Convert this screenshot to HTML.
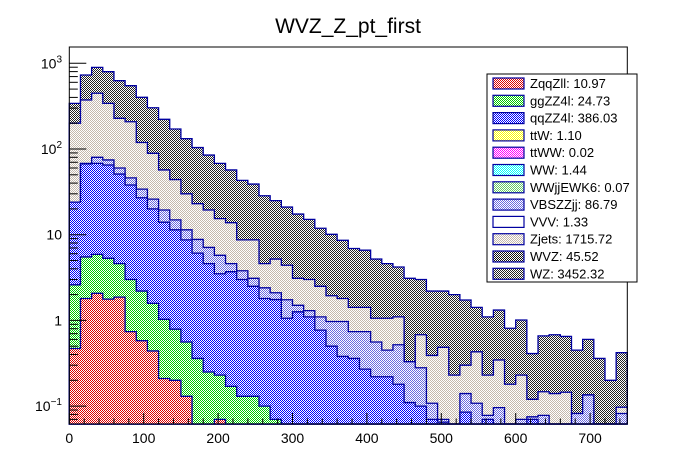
<!DOCTYPE html>
<html><head><meta charset="utf-8"><style>
body{margin:0;background:#fff;width:696px;height:472px;overflow:hidden}
svg{display:block;font-family:"Liberation Sans",sans-serif}
</style></head><body>
<svg id="chart" width="696" height="472" viewBox="0 0 696 472" xmlns="http://www.w3.org/2000/svg">
<defs>
<pattern id="pWZ" width="2" height="2" patternUnits="userSpaceOnUse"><rect width="2" height="2" fill="#fff"/><rect width="1" height="1" fill="#222"/><rect x="1" y="1" width="1" height="1" fill="#222"/></pattern>
<pattern id="pWVZ" width="2" height="2" patternUnits="userSpaceOnUse"><rect width="2" height="2" fill="#fff"/><rect width="1" height="1" fill="#111"/><rect x="1" y="1" width="1" height="1" fill="#111"/></pattern>
<pattern id="pZjets" width="2" height="2" patternUnits="userSpaceOnUse"><rect width="2" height="2" fill="#fff"/><rect width="1" height="1" fill="#c4b8ac"/><rect x="1" y="1" width="1" height="1" fill="#c4b8ac"/></pattern>
<pattern id="pVBS" width="2" height="2" patternUnits="userSpaceOnUse"><rect width="2" height="2" fill="#fff"/><rect width="1" height="1" fill="#6a6ae0"/><rect x="1" y="1" width="1" height="1" fill="#6a6ae0"/></pattern>
<pattern id="pqq" width="2" height="2" patternUnits="userSpaceOnUse"><rect width="2" height="2" fill="#fff"/><rect width="1" height="1" fill="#0000ff"/><rect x="1" y="1" width="1" height="1" fill="#0000ff"/></pattern>
<pattern id="pgg" width="2" height="2" patternUnits="userSpaceOnUse"><rect width="2" height="2" fill="#fff"/><rect width="1" height="1" fill="#00cc00"/><rect x="1" y="1" width="1" height="1" fill="#00cc00"/></pattern>
<pattern id="pZqq" width="2" height="2" patternUnits="userSpaceOnUse"><rect width="2" height="2" fill="#fff"/><rect width="1" height="1" fill="#dd0000"/><rect x="1" y="1" width="1" height="1" fill="#dd0000"/></pattern>
<pattern id="pttW" width="2" height="2" patternUnits="userSpaceOnUse"><rect width="2" height="2" fill="#fff"/><rect width="1" height="1" fill="#ffff00"/><rect x="1" y="1" width="1" height="1" fill="#ffff00"/></pattern>
<pattern id="pttWW" width="2" height="2" patternUnits="userSpaceOnUse"><rect width="2" height="2" fill="#fff"/><rect width="1" height="1" fill="#ff00ff"/><rect x="1" y="1" width="1" height="1" fill="#ff00ff"/></pattern>
<pattern id="pWW" width="2" height="2" patternUnits="userSpaceOnUse"><rect width="2" height="2" fill="#fff"/><rect width="1" height="1" fill="#00ffff"/><rect x="1" y="1" width="1" height="1" fill="#00ffff"/></pattern>
<pattern id="pWWjj" width="2" height="2" patternUnits="userSpaceOnUse"><rect width="2" height="2" fill="#fff"/><rect width="1" height="1" fill="#66cc66"/><rect x="1" y="1" width="1" height="1" fill="#66cc66"/></pattern>
</defs>
<text x="348" y="33" font-size="21" text-anchor="middle">WVZ_Z_pt_first</text>
<g id="layers"></g>
<rect x="69.3" y="47" width="558" height="377" fill="none" stroke="#000" stroke-width="1"/>
<g id="axes"></g>
<g id="legend"></g>
</svg>
<script>
const binEdgesMin = 0;
const binWidth = 15;
const nBins = 50;
const xTicks = [0,100,200,300,400,500,600,700];
const yDecades = [-1,0,1,2,3];
const yTickLabels = ["10","1","10","10","10"];
const yTickExps = ["\u22121","","","2","3"];

const topWZ = [341,730,897,798,627,548,401,303,222,171,132,104,85,68,57,43,39,28.5,25,21,17.4,15.1,11.9,10.1,8.6,6.9,6.6,5.2,4.6,4.2,3.1,3.0,2.2,2.2,2.0,1.73,1.42,1.10,1.32,0.81,1.01,0.41,0.66,0.68,0.65,0.45,0.60,0.36,0.20,0.42];
const topZjets = [200,373,447,341,228,208,119,89,57,44,30,23,19.4,15.4,13.8,8.7,8.7,4.6,5.2,4.4,3.1,3.0,2.5,1.94,1.8,1.42,1.42,1.06,1.06,1.10,0.32,0.68,0.39,0.485,0.23,0.30,0.43,0.23,0.345,0.18,0.23,0.12,0.147,0.14,0.145,0.082,0.135,0,0,0.097];
const topVBSZZjj = [24,68,80,74.5,60,46,34,26,19.4,14.9,11.4,8.8,7.1,5.75,4.6,3.8,3.1,2.4,2.1,1.74,1.5,1.3,1.1,0.97,0.97,0.74,0.74,0.56,0.45,0.52,0.33,0.28,0.108,0.07,0,0.14,0.108,0.078,0.096,0,0.07,0.075,0.078,0,0,0.082,0.135,0,0,0.082];
const topqqZZ4l = [24,67,68,65,51,38,27,20,14,11.4,8.7,6.1,4.6,3.5,3.7,3.0,2.5,1.8,1.75,1.06,1.26,1.1,0.77,0.5,0.38,0.36,0.27,0.22,0.22,0.18,0.11,0.1,0.07,0.065,0,0.085,0,0.07,0,0,0,0.07,0,0,0,0,0,0,0,0];
const topggZZ4l = [2.6,5.5,5.9,5.3,4.6,3.0,2.2,1.58,1.03,0.79,0.56,0.36,0.25,0.23,0.17,0.13,0.13,0.1,0.07,0,0,0,0,0,0,0,0,0,0,0,0,0,0,0,0,0,0,0,0,0,0,0,0,0,0,0,0,0,0,0];
const topZqqZll = [0.47,1.8,2.07,1.77,1.87,0.74,0.58,0.44,0.21,0.2,0.13,0,0,0.07,0,0,0,0,0,0,0,0,0,0,0,0,0,0,0,0,0,0,0,0,0,0,0,0,0,0,0,0,0,0,0,0,0,0,0,0];

const legendNames = ["ZqqZll: 10.97","ggZZ4l: 24.73","qqZZ4l: 386.03","ttW: 1.10","ttWW: 0.02","WW: 1.44","WWjjEWK6: 0.07","VBSZZjj: 86.79","VVV: 1.33","Zjets: 1715.72","WVZ: 45.52","WZ: 3452.32"];
const legendFills = ["url(#pZqq)","url(#pgg)","url(#pqq)","url(#pttW)","url(#pttWW)","url(#pWW)","url(#pWWjj)","url(#pVBS)","#fff","url(#pZjets)","url(#pWVZ)","url(#pWZ)"];

const NS="http://www.w3.org/2000/svg";
const X0=69.3, X1=627.3, YB=424, YT=47;
function xPix(v){return X0+(v-binEdgesMin)/(binWidth*nBins)*(X1-X0);}
function yPix(v){ if(!(v>0)) return YB; let y=63.3+(3-Math.log10(v))*85.7; return Math.max(YT,Math.min(YB,y)); }

const layerDefs=[
 {arr:topWZ, fill:"url(#pWZ)", name:"layer-wz"},
 {arr:topZjets, fill:"url(#pZjets)", name:"layer-zjets"},
 {arr:topVBSZZjj, fill:"url(#pVBS)", name:"layer-vbszzjj"},
 {arr:topqqZZ4l, fill:"url(#pqq)", name:"layer-qqzz4l"},
 {arr:topggZZ4l, fill:"url(#pgg)", name:"layer-ggzz4l"},
 {arr:topZqqZll, fill:"url(#pZqq)", name:"layer-zqqzll"}
];
const layersG=document.getElementById('layers');
layerDefs.forEach(L=>{
  let d="M"+xPix(0)+","+YB;
  for(let i=0;i<nBins;i++){
    const y=yPix(L.arr[i]);
    d+=" L"+xPix(i*binWidth)+","+y+" L"+xPix((i+1)*binWidth)+","+y;
  }
  d+=" L"+xPix(nBins*binWidth)+","+YB+" Z";
  const p=document.createElementNS(NS,'path');
  p.setAttribute('d',d);p.setAttribute('fill',L.fill);
  p.setAttribute('stroke','#0000a0');p.setAttribute('stroke-width','1.3');
  
  
  layersG.appendChild(p);
});

const axesG=document.getElementById('axes');
function line(x1,y1,x2,y2,name){
  const l=document.createElementNS(NS,'line');
  l.setAttribute('x1',x1);l.setAttribute('y1',y1);l.setAttribute('x2',x2);l.setAttribute('y2',y2);
  l.setAttribute('stroke','#000');l.setAttribute('stroke-width','1');
  
  
  axesG.appendChild(l);
}
for(let v=0;v<=750;v+=20){ const x=xPix(v); line(x,YB,x,YB-(v%100===0?11:5.5),'x-tick'); }
xTicks.forEach(v=>{
  const t=document.createElementNS(NS,'text');
  t.setAttribute('x',xPix(v));t.setAttribute('y',443);t.setAttribute('font-size','14');t.setAttribute('text-anchor','middle');
  t.textContent=v;
  
  
  axesG.appendChild(t);
});
for(let dcd=-2;dcd<=3;dcd++){
  for(let m=1;m<=9;m++){
    const v=m*Math.pow(10,dcd); const y=63.3+(3-Math.log10(v))*85.7;
    if(y<YT||y>YB) continue;
    line(X0,y,X0+(m===1?17:8.5),y,'y-tick');
  }
}
yDecades.forEach((e,i)=>{
  const y=63.3+(3-e)*85.7;
  const t=document.createElementNS(NS,'text');
  t.setAttribute('x',62);t.setAttribute('y',y+5);t.setAttribute('font-size','14');t.setAttribute('text-anchor','end');
  t.textContent=yTickLabels[i];
  if(yTickExps[i]){
    const s=document.createElementNS(NS,'tspan');
    s.setAttribute('dy','-6');s.setAttribute('font-size','10');s.textContent=yTickExps[i];
    t.appendChild(s);
  }
  
  
  axesG.appendChild(t);
});

const lg=document.getElementById('legend');
const box=document.createElementNS(NS,'rect');
box.setAttribute('x',487);box.setAttribute('y',74);box.setAttribute('width',150);box.setAttribute('height',208);
box.setAttribute('fill','#fff');box.setAttribute('stroke','#000');


lg.appendChild(box);
legendNames.forEach((n,i)=>{
  const cy=83+i*17.3;
  const r=document.createElementNS(NS,'rect');
  r.setAttribute('x',493);r.setAttribute('y',cy-5);r.setAttribute('width',31);r.setAttribute('height',11);
  r.setAttribute('fill',legendFills[i]);r.setAttribute('stroke','#0000a0');r.setAttribute('stroke-width','1.2');
  
  
  lg.appendChild(r);
  const t=document.createElementNS(NS,'text');
  t.setAttribute('x',530);t.setAttribute('y',cy+5);t.setAttribute('font-size','13');
  t.textContent=n;
  
  
  lg.appendChild(t);
});
</script>
</body></html>
